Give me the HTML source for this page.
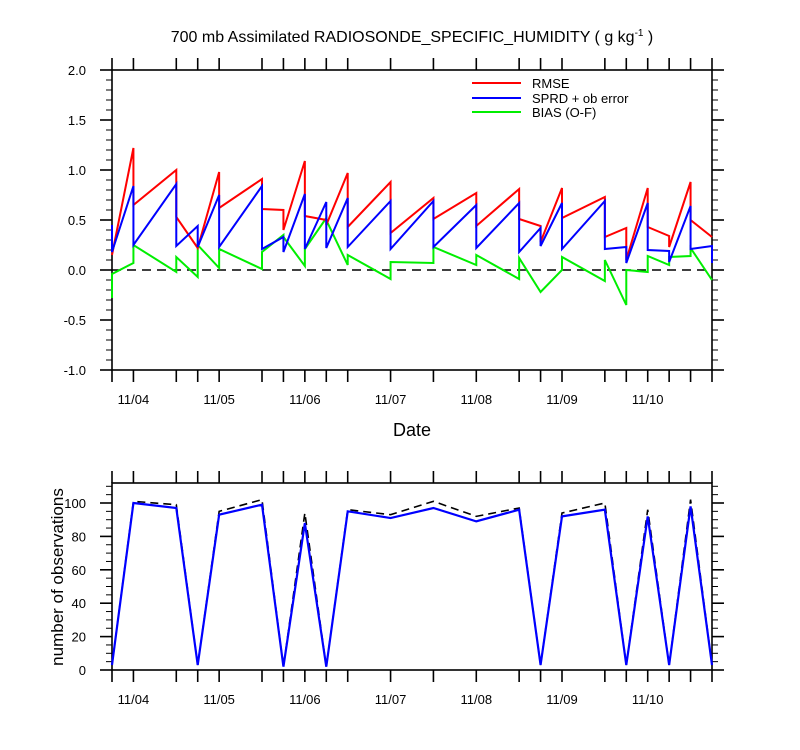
<!DOCTYPE html>
<html><head><meta charset="utf-8"><style>
body{margin:0;background:#fff}
svg{display:block;font-family:"Liberation Sans",sans-serif}
</style></head><body>
<svg id="c" width="800" height="750" xmlns="http://www.w3.org/2000/svg">
<text x="412" y="42" font-size="16" text-anchor="middle">700 mb Assimilated RADIOSONDE_SPECIFIC_HUMIDITY ( g kg<tspan dy="-6" font-size="10">-1</tspan><tspan dy="6"> )</tspan></text>
<text x="412" y="436" font-size="18" text-anchor="middle">Date</text>
<text transform="translate(63,577) rotate(-90)" font-size="17" text-anchor="middle">number of observations</text>
<g>
<line x1="472" y1="83" x2="521" y2="83" stroke="#f00" stroke-width="2"/>
<text x="532" y="88" font-size="13">RMSE</text>
<line x1="472" y1="98" x2="521" y2="98" stroke="#00f" stroke-width="2"/>
<text x="532" y="103" font-size="13">SPRD + ob error</text>
<line x1="472" y1="112" x2="521" y2="112" stroke="#0e0" stroke-width="2"/>
<text x="532" y="117" font-size="13">BIAS (O-F)</text>
</g>
</svg>
<script>
const times=[-6,0,12,18,24,36,42,48,54,60,72,84,96,108,114,120,132,138,144,150,156,162];
const rmseIn =[0.15,1.22,1.00,0.22,0.98,0.91,0.60,1.09,0.50,0.97,0.88,0.72,0.77,0.81,0.44,0.82,0.73,0.42,0.82,0.34,0.88,0.33];
const rmseOut=[0.15,0.65,0.53,0.22,0.62,0.61,0.40,0.54,0.45,0.43,0.37,0.51,0.44,0.51,0.28,0.52,0.33,0.10,0.43,0.23,0.50,0.33];
const sprdIn =[0.45,0.84,0.86,0.44,0.75,0.84,0.33,0.76,0.68,0.72,0.69,0.69,0.65,0.67,0.42,0.67,0.69,0.23,0.67,0.19,0.64,0.24];
const sprdOut=[0.18,0.25,0.24,0.23,0.23,0.21,0.18,0.21,0.22,0.23,0.21,0.23,0.22,0.18,0.24,0.21,0.21,0.07,0.20,0.08,0.21,0.07];
const biasIn =[-0.28,0.07,-0.02,-0.07,0.02,0.01,0.35,0.04,0.52,0.05,-0.09,0.07,0.05,-0.09,-0.22,0.00,-0.11,-0.35,-0.02,0.05,0.14,-0.10];
const biasOut=[-0.04,0.25,0.13,0.25,0.21,0.18,0.33,0.21,0.50,0.15,0.08,0.23,0.15,0.12,-0.22,0.13,0.10,0.00,0.14,0.13,0.22,-0.10];
const obsUsed=[3,100,97,3,93,99,2,88,2,95,91,97,89,96,3,92,96,3,92,3,98,3];
const obsTotal=[3,101,99,3,95,102,2,94,2,96,93,101,92,97,3,94,100,3,96,3,102,3];
const dateLabels=["11/04","11/05","11/06","11/07","11/08","11/09","11/10"];
const yTicksTop=[-1.0,-0.5,0.0,0.5,1.0,1.5,2.0];
const yTicksObs=[0,20,40,60,80,100];

const NS="http://www.w3.org/2000/svg",svg=document.getElementById('c');
const X0=112,X1=712,T0=-6,T1=162;
const xs=t=>X0+(t-T0)/(T1-T0)*(X1-X0);
const yTop=v=>270-v*100;
const yObs=v=>670-v*1.67;
function mk(tag,at,name){const e=document.createElementNS(NS,tag);for(const k in at)e.setAttribute(k,at[k]);


svg.appendChild(e);return e;}
function ln(x1,y1,x2,y2,name,w){return mk('line',{x1,y1,x2,y2,stroke:'#000','stroke-width':w||1.2},name);}
function txt(x,y,s,anchor,name){const e=mk('text',{x,y,'font-size':13,'text-anchor':anchor},name);e.textContent=s;return e;}

function frame(top,bot,pre){
  mk('rect',{x:X0,y:top,width:X1-X0,height:bot-top,fill:'none',stroke:'#000','stroke-width':1.6},pre+'-frame');
  times.forEach(t=>{const x=xs(t);ln(x,top,x,top-12,pre+'-top-tick',1.6);ln(x,bot,x,bot+12,pre+'-bottom-tick',1.6);});
  dateLabels.forEach((d,i)=>txt(xs(i*24),bot+34,d,'middle',pre+'-date-label'));
}
frame(70,370,'top');
for(let v=-1.0;v<=2.0001;v+=0.1){const y=yTop(v);const maj=Math.abs(v*2-Math.round(v*2))<1e-6;
  ln(X0,y,X0-(maj?12:6),y,'top-y-tick',maj?1.6:1);ln(X1,y,X1+(maj?12:6),y,'top-y-tick-right',maj?1.6:1);}
yTicksTop.forEach(v=>txt(86,yTop(v)+5,v.toFixed(1),'end','top-y-label'));
ln(X0,yTop(0),X1,yTop(0),'zero-line',1.6).setAttribute('stroke-dasharray','9,6');
function saw(a,b,col,name){let d='';times.forEach((t,i)=>{d+=(i?'L':'M')+xs(t)+','+yTop(a[i])+'L'+xs(t)+','+yTop(b[i]);});
  mk('path',{d,fill:'none',stroke:col,'stroke-width':2},name);}
saw(biasIn,biasOut,'#0e0','bias-line');
saw(rmseIn,rmseOut,'#f00','rmse-line');
saw(sprdIn,sprdOut,'#00f','sprd-line');
frame(483,670,'obs');
for(let v=0;v<=110;v+=5){const y=yObs(v);const maj=v%20==0;
  ln(X0,y,X0-(maj?12:6),y,'obs-y-tick',maj?1.6:1);ln(X1,y,X1+(maj?12:6),y,'obs-y-tick-right',maj?1.6:1);}
yTicksObs.forEach(v=>txt(86,yObs(v)+5,String(v),'end','obs-y-label'));
function poly(a,col,name,dash){const d=times.map((t,i)=>(i?'L':'M')+xs(t)+','+yObs(a[i])).join('');
  const p=mk('path',{d,fill:'none',stroke:col,'stroke-width':dash?1.6:2.2},name);if(dash)p.setAttribute('stroke-dasharray','8,5');}
poly(obsTotal,'#000','obs-total-line',true);
poly(obsUsed,'#00f','obs-used-line',false);
</script>
</body></html>
